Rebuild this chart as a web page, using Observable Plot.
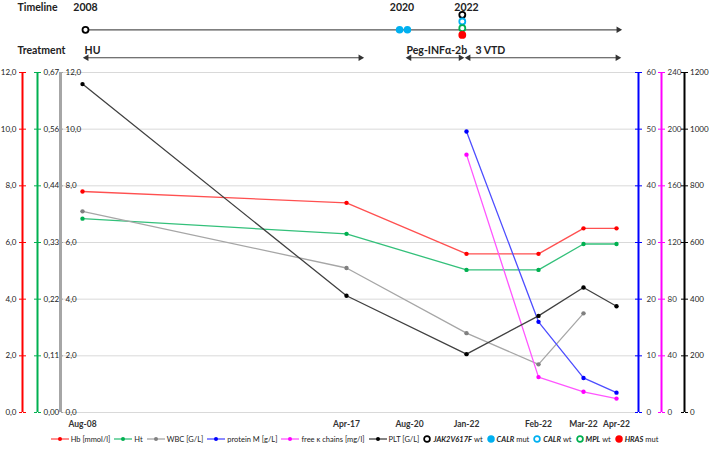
<!DOCTYPE html>
<html><head><meta charset="utf-8">
<script src="https://cdn.jsdelivr.net/npm/d3@7"></script>
<script src="https://cdn.jsdelivr.net/npm/@observablehq/plot@0.6"></script>
<style>
body{margin:0;background:#fff;font-family:Lato,"Open Sans",sans-serif;}
#wrap{width:709px;}
#wrap svg{display:block;overflow:visible;}
.legend{display:flex;justify-content:center;align-items:center;font-size:7.5px;height:12px;color:#222;margin-top:0px;}
.legend .it{display:flex;align-items:center;margin:0 2px;white-space:nowrap;}
.legend svg{margin-right:2px;}
.legend i{font-weight:bold;font-style:italic;margin-right:2px;}
</style></head><body><div id="wrap"></div>
<script>
// ---------- data ----------
const categories = ["Aug-08","Apr-17","Aug-20","Jan-22","Feb-22","Mar-22","Apr-22"];
const axisPos   = [0, 8.8, 10.9, 12.8, 15.2, 16.7, 17.8];   // uneven category spacing of the original axis
const hb       = [7.8, 7.4, null, 5.6, 5.6, 6.5, 6.5];
const ht       = [0.382, 0.352, null, 0.281, 0.281, 0.332, 0.332];
const wbc      = [7.1, 5.1, null, 2.8, 1.7, 3.5, null];
const proteinM = [null, null, null, 49.6, 16.0, 6.1, 3.5];
const kappa    = [null, null, null, 182, 25, 14.6, 9.8];
const plt      = [1159, 412, null, 206, 341, 441, 375];

const seriesNames = ["Hb [mmol/l]","Ht","WBC [G/L]","protein M [g/L]","free κ chains [mg/l]","PLT [G/L]"];
const axisMax = [12, 0.67, 12, 60, 240, 1200];

const hbTicks    = ["0,0","2,0","4,0","6,0","8,0","10,0","12,0"];
const htTicks    = ["0,00","0,11","0,22","0,33","0,44","0,56","0,67"];
const wbcTicks   = ["0,0","2,0","4,0","6,0","8,0","10,0","12,0"];
const protTicks  = ["0","10","20","30","40","50","60"];
const kappaTicks = ["0","40","80","120","160","200","240"];
const pltTicks   = ["0","200","400","600","800","1000","1200"];

const years = ["2008","2020","2022"];
const yearPos = [0.1, 10.65, 12.8];
const calrMutPos = [10.57, 10.83];
const mut2022 = ["JAK2V617F wt","CALR wt","MPL wt","HRAS mut"];
const mut2022Pos = 12.66;
const treatments = ["HU","Peg-INFα-2b","3 VTD"];
const treatStart = [0.07, 10.83, 12.8];
const treatEnd   = [9.33, 12.67, 17.9];
const timelineStart = 0.1, timelineEnd = 17.93;

// ---------- styles ----------
const lineColors = ["#ff5050","#33c07a","#a6a6a6","#4d4dff","#ff55ff","#404040"];
const dotColors  = ["#ff0000","#00b050","#808080","#0000ff","#ff00ff","#000000"];
const axisColors = ["#ff0000","#00b050","#a6a6a6","#0000ff","#ff00ff","#000000"];
const FONT = 'Lato, "Open Sans", sans-serif';
const xMin = -0.6667, xMax = 18.5333;
const TICKFS = 8;

// ---------- table ----------
const valueSets = [hb, ht, wbc, proteinM, kappa, plt];
const rows = [];
valueSets.forEach((vals, s) => vals.forEach((v, i) => {
  if (v != null) rows.push({series: seriesNames[s], s, cat: categories[i], x: axisPos[i], value: v, y: v / axisMax[s] * 12});
}));
const yTicks = [0,2,4,6,8,10,12];
const fmt = labels => d => labels[yTicks.indexOf(d)];
const blank = () => "";

const wrap = document.getElementById("wrap");

// ---------- timeline ----------
const R = {year: 7, line: 29.3, treat: 50, arrow: 57.3};
const tri = (xs, rot, y, dx) => Plot.dot(xs, {x: d => d, y: () => y, symbol: "triangle", r: 2.4, rotate: rot, fill: "#333", dx});
const tl = Plot.plot({
  width: 709, height: 65, marginLeft: 62, marginRight: 71, marginTop: 0, marginBottom: 0,
  x: {domain: [xMin, xMax], axis: null},
  y: {domain: [0, 65], range: [0, 65], axis: null},
  style: {fontFamily: FONT, color: "#222", overflow: "visible"},
  marks: [
    Plot.text(["Timeline"], {x: () => xMin, y: () => R.year, dx: -45, text: d => d, textAnchor: "start", fontWeight: "bold", fontSize: 10.5}),
    Plot.text(["Treatment"], {x: () => xMin, y: () => R.treat, dx: -45, text: d => d, textAnchor: "start", fontWeight: "bold", fontSize: 10.5}),
    Plot.text(years, {x: (d, i) => yearPos[i], y: () => R.year, text: d => d, fontWeight: "bold", fontSize: 10.5}),
    Plot.ruleY([R.line], {x1: timelineStart, x2: timelineEnd, stroke: "#555", strokeWidth: 1.2}),
    tri([timelineEnd], 90, R.line, -2),
    Plot.dot([years[0]], {x: () => yearPos[0], y: () => R.line, r: 3, stroke: "#000", strokeWidth: 1.8, fill: "#fff"}),
    Plot.dot(calrMutPos, {x: d => d, y: () => R.line, r: 3.8, fill: "#00b0f0"}),
    Plot.dot(mut2022, {x: () => mut2022Pos, y: (d, i) => 14.3 + i * 6.7, r: 3,
      stroke: (d, i) => ["#000","#00b0f0","#00b050","#ff0000"][i],
      fill: (d, i) => i === 3 ? "#ff0000" : "#fff", strokeWidth: 1.8}),
    Plot.text(treatments, {x: (d, i) => treatStart[i] + (i === 2 ? 0.3 : i === 1 ? -0.03 : 0), y: () => R.treat, text: d => d, textAnchor: "start", fontWeight: "bold", fontSize: 10.5}),
    Plot.link(treatments, {x1: (d, i) => treatStart[i], x2: (d, i) => treatEnd[i], y1: () => R.arrow, y2: () => R.arrow, stroke: "#444", strokeWidth: 1.1}),
    tri(treatEnd, 90, R.arrow, -2),
    tri(treatStart, -90, R.arrow, 2)
  ]
});
wrap.appendChild(tl);

// ---------- main chart ----------
const axisRule = (dx, color, w) => Plot.ruleX([xMin], {y1: 0, y2: 12, dx, stroke: color, strokeWidth: w});
const ax = (opts) => Plot.axisY(yTicks, {label: null, fontSize: TICKFS, ...opts});
const marks = [
  Plot.gridY(yTicks, {stroke: "#d9d9d9", strokeOpacity: 1, strokeWidth: 1}),
  // left axes
  axisRule(-40, axisColors[0], 2),
  ax({anchor: "left", dx: -40, tickSize: 3, tickPadding: 3, tickFormat: fmt(hbTicks), stroke: axisColors[0], fill: "#222"}),
  ax({anchor: "right", dx: -616, tickSize: 3, tickFormat: blank, stroke: axisColors[0]}),
  axisRule(-25, axisColors[1], 2),
  ax({anchor: "right", dx: -601, tickSize: 3, tickPadding: 3, tickFormat: fmt(htTicks), stroke: axisColors[1], fill: "#222"}),
  ax({anchor: "left", dx: -25, tickSize: 3, tickFormat: blank, stroke: axisColors[1]}),
  axisRule(-2, axisColors[2], 3),
  ax({anchor: "right", dx: -578, tickSize: 2, tickPadding: 3, tickFormat: fmt(wbcTicks), stroke: axisColors[2], fill: "#222"}),
  // right axes
  Plot.ruleX([xMax], {y1: 0, y2: 12, dx: 0, stroke: axisColors[3], strokeWidth: 2}),
  ax({anchor: "right", dx: 0, tickSize: 3, tickPadding: 5, tickFormat: fmt(protTicks), stroke: axisColors[3], fill: "#333"}),
  ax({anchor: "left", dx: 576, tickSize: 3, tickFormat: blank, stroke: axisColors[3]}),
  Plot.ruleX([xMax], {y1: 0, y2: 12, dx: 23, stroke: axisColors[4], strokeWidth: 2}),
  ax({anchor: "right", dx: 23, tickSize: 3, tickPadding: 3, tickFormat: fmt(kappaTicks), stroke: axisColors[4], fill: "#333"}),
  ax({anchor: "left", dx: 599, tickSize: 3, tickFormat: blank, stroke: axisColors[4]}),
  Plot.ruleX([xMax], {y1: 0, y2: 12, dx: 46, stroke: axisColors[5], strokeWidth: 2}),
  ax({anchor: "right", dx: 46, tickSize: 3, tickPadding: 2.5, tickFormat: fmt(pltTicks), stroke: axisColors[5], fill: "#222"}),
  ax({anchor: "left", dx: 622, tickSize: 3, tickFormat: blank, stroke: axisColors[5]}),
  // x axis
  Plot.axisX(axisPos, {label: null, tickSize: 0, tickPadding: 8, tickFormat: d => categories[axisPos.indexOf(d)], fontWeight: "bold", fontSize: 8.5, fill: "#333"})
];
seriesNames.forEach((name, s) => {
  const data = rows.filter(r => r.s === s);
  marks.push(Plot.line(data, {x: "x", y: "y", stroke: lineColors[s], strokeWidth: 1.3}));
  marks.push(Plot.dot(data, {x: "x", y: "y", r: 2.2, fill: dotColors[s]}));
});
const main = Plot.plot({
  width: 709, height: 368, marginLeft: 62, marginRight: 71, marginTop: 7, marginBottom: 21,
  x: {domain: [xMin, xMax]},
  y: {domain: [0, 12]},
  style: {fontFamily: FONT, fontSize: "8px", color: "#222", overflow: "visible"},
  marks
});
wrap.appendChild(main);

// ---------- legend ----------
const legend = document.createElement("div");
legend.className = "legend";
seriesNames.forEach((name, s) => {
  const it = document.createElement("div");
  it.className = "it";
  it.innerHTML = `<svg width="18" height="8"><line x1="0" y1="4" x2="18" y2="4" stroke="${lineColors[s]}" stroke-width="1.3"/><circle cx="9" cy="4" r="2" fill="${dotColors[s]}"/></svg><span>${name}</span>`;
  legend.appendChild(it);
});
const markerLegend = [
  ["JAK2V617F","wt","#000","#fff"],
  ["CALR","mut","#00b0f0","#00b0f0"],
  ["CALR","wt","#00b0f0","#fff"],
  ["MPL","wt","#00b050","#fff"],
  ["HRAS","mut","#ff0000","#ff0000"]
];
markerLegend.forEach(([gene, status, stroke, fill]) => {
  const it = document.createElement("div");
  it.className = "it";
  it.innerHTML = `<svg width="8" height="8"><circle cx="4" cy="4" r="2.9" fill="${fill}" stroke="${stroke}" stroke-width="1.7"/></svg><i>${gene}</i><span>${status}</span>`;
  legend.appendChild(it);
});
wrap.appendChild(legend);
</script>
</body></html>
